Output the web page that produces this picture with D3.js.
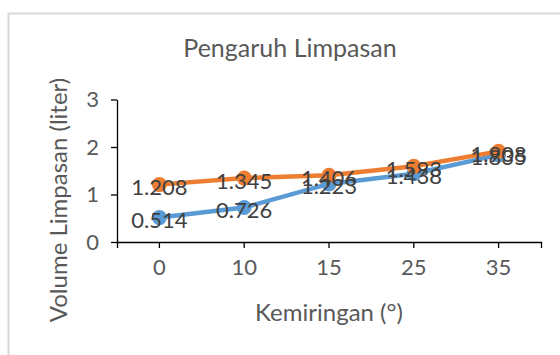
<!DOCTYPE html>
<html><head><meta charset="utf-8">
<script src="https://cdn.jsdelivr.net/npm/d3@7"></script>
<style>body{margin:0;background:#fff}svg{display:block}text{font-family:Lato,"Noto Sans",sans-serif}</style>
</head><body><svg id="c" width="560" height="355"></svg>
<script>
const categories = ["0","10","15","25","35"];
const seriesBlue = [0.514,0.726,1.223,1.438,1.835];
const seriesOrange = [1.208,1.345,1.406,1.593,1.908];
const yTicks = [0,1,2,3];
const title = "Pengaruh Limpasan";
const xTitle = "Kemiringan (°)";
const yTitle = "Volume Limpasan (liter)";

const svg = d3.select("#c");
svg.append("rect").attr("x",8.5).attr("y",13.5).attr("width",600).attr("height",400)
  .attr("fill","#fff").attr("stroke","#d9d9d9").attr("stroke-width",2);

const L=117, R=541, T=99.5, B=242;
const x = d3.scaleBand().domain(categories).range([L,R]);
const y = d3.scaleLinear().domain([0,3]).range([B,T]);
const cx = d => x(d)+x.bandwidth()/2;

const xa = svg.append("g").attr("transform",`translate(0,${B})`)
  .call(d3.axisBottom(x).tickSize(6).tickSizeOuter(6).tickPadding(11));
const ya = svg.append("g").attr("transform",`translate(${L},0)`)
  .call(d3.axisLeft(y).tickValues(yTicks).tickFormat(d3.format("d")).tickSize(6).tickSizeOuter(0).tickPadding(12));
[xa,ya].forEach(g=>{
  g.selectAll("path,line").attr("stroke","#000").attr("stroke-width",1.3);
  g.selectAll("text").attr("fill","#595959").attr("font-size",22).attr("font-family","Lato");
});

const series = [{v:seriesBlue,c:"#5B9BD5"},{v:seriesOrange,c:"#ED7D31"}];
const line = d3.line().x((d,i)=>cx(categories[i])).y(d=>y(d));
series.forEach(s=>{
  svg.append("path").datum(s.v).attr("d",line).attr("fill","none")
    .attr("stroke",s.c).attr("stroke-width",4.5).attr("stroke-linejoin","round");
  svg.selectAll(null).data(s.v).enter().append("circle")
    .attr("cx",(d,i)=>cx(categories[i])).attr("cy",d=>y(d)).attr("r",7.5).attr("fill",s.c);
});
series.forEach(s=>{
  svg.selectAll(null).data(s.v).enter().append("text")
    .attr("x",(d,i)=>cx(categories[i])).attr("y",d=>y(d)+2)
    .attr("text-anchor","middle").attr("dominant-baseline","central")
    .attr("font-size",22).attr("fill","#404040").text(d=>d3.format(".3f")(d));
});

svg.append("text").attr("x",290).attr("y",57).attr("text-anchor","middle")
  .attr("font-size",25).attr("fill","#595959").text(title);
svg.append("text").attr("x",(L+R)/2).attr("y",321).attr("text-anchor","middle")
  .attr("font-size",24).attr("fill","#595959").text(xTitle);
svg.append("text").attr("transform","translate(67,200) rotate(-90)").attr("text-anchor","middle")
  .attr("font-size",24).attr("fill","#595959").text(yTitle);
</script></body></html>
